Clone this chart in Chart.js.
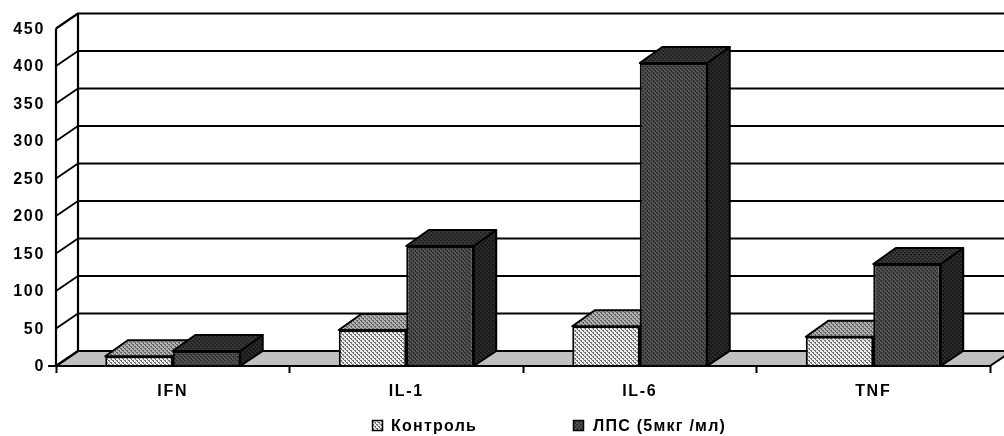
<!DOCTYPE html>
<html><head><meta charset="utf-8">
<style>html,body{margin:0;padding:0;background:#fff}#w{width:1004px;height:436px}canvas{display:block}</style>
<script src="https://cdn.jsdelivr.net/npm/chart.js@4"></script></head>
<body><div id="w"><canvas id="c" width="1004" height="436"></canvas></div>
<script>
const categories = ['IFN', 'IL-1', 'IL-6', 'TNF'];
const controlLabel = 'Контроль';
const lpsLabel = 'ЛПС (5мкг /мл)';
const controlValues = [13, 48, 53, 39];
const lpsValues = [20, 160, 404, 136];
const yTicks = [0,50,100,150,200,250,300,350,400,450];
const FONT = '"Liberation Sans", Arial, sans-serif';
const DX = 22, DY = -15, BAR_DX = 22.5, BAR_DY = -16;

function pattern(bg, fg){
  const p = document.createElement('canvas'); p.width = p.height = 4;
  const g = p.getContext('2d');
  g.fillStyle = bg; g.fillRect(0,0,4,4);
  g.fillStyle = fg;
  g.fillRect(0,0,2,1); g.fillRect(2,2,2,1); g.fillRect(1,1,1,1); g.fillRect(3,3,1,1);
  return document.getElementById('c').getContext('2d').createPattern(p,'repeat');
}
const skins = [
  {front: pattern('#ececec','#6e6e6e'), top: pattern('#b0b0b0','#646464'), side: pattern('#787878','#303030')},
  {front: pattern('#505050','#2e2e2e'), top: pattern('#383838','#1e1e1e'), side: pattern('#2a2a2a','#141414')}
];

function poly(ctx, pts, fill, lw){
  ctx.beginPath();
  pts.forEach((p,i)=> i?ctx.lineTo(p[0],p[1]):ctx.moveTo(p[0],p[1]));
  ctx.closePath();
  if(fill){ctx.fillStyle = fill; ctx.fill();}
  ctx.lineJoin='round';
  ctx.lineWidth = lw; ctx.strokeStyle = '#000'; ctx.stroke();
}

const scene = {
  id:'scene',
  beforeDraw(chart){ chart.ctx.letterSpacing = '1.7px'; },
  beforeDatasetsDraw(chart){
    const ctx = chart.ctx, a = chart.chartArea, y = chart.scales.y;
    ctx.save();
    poly(ctx, [[a.left,a.bottom],[a.left+DX,a.bottom+DY],[a.right+DX,a.bottom+DY],[a.right,a.bottom]], '#c0c0c0', 2);
    ctx.strokeStyle='#000';
    yTicks.forEach(t=>{
      const py = y.getPixelForValue(t);
      ctx.lineWidth = (t===0||t===450)?2.2:1.9;
      ctx.beginPath(); ctx.moveTo(a.left,py); ctx.lineTo(a.left+DX,py+DY); ctx.lineTo(chart.width+2,py+DY); ctx.stroke();
    });
    ctx.lineWidth=2.2;
    ctx.beginPath(); ctx.moveTo(a.left+DX,a.top+DY); ctx.lineTo(a.left+DX,a.bottom+DY); ctx.stroke();
    ctx.beginPath(); ctx.moveTo(a.left,a.top); ctx.lineTo(a.left,a.bottom); ctx.stroke();
    categories.forEach((_,i)=>{
      [0,1].forEach(d=>{
        const b = chart.getDatasetMeta(d).data[i];
        const l=b.x-b.width/2, r=b.x+b.width/2, t=b.y, bs=b.base;
        poly(ctx,[[r,bs],[r+BAR_DX,bs+DY],[r+BAR_DX,t+BAR_DY],[r,t]],skins[d].side,2);
        poly(ctx,[[l,t],[l+BAR_DX,t+BAR_DY],[r+BAR_DX,t+BAR_DY],[r,t]],skins[d].top,2);
      });
    });
    ctx.restore();
  },
  afterDraw(chart){
    const ctx = chart.ctx, a = chart.chartArea;
    ctx.save();
    ctx.strokeStyle='#000'; ctx.lineWidth=2.2;
    ctx.beginPath(); ctx.moveTo(a.left-8,a.bottom); ctx.lineTo(a.right,a.bottom); ctx.stroke();
    ctx.letterSpacing='1.25px';
    ctx.font='bold 16px '+FONT; ctx.textBaseline='middle'; ctx.textAlign='left';
    [[372,391,controlLabel,0],[573,593,lpsLabel,1]].forEach(([mx,tx,txt,d])=>{
      ctx.fillStyle=skins[d].front; ctx.fillRect(mx,420,11,11);
      ctx.lineWidth=1.5; ctx.strokeStyle='#000'; ctx.strokeRect(mx+.5,420.5,10,10);
      ctx.fillStyle='#000'; ctx.fillText(txt,tx,427);
    });
    ctx.restore();
  }
};

new Chart(document.getElementById('c'),{
  type:'bar',
  data:{labels:categories,datasets:[
    {label:controlLabel,data:controlValues,backgroundColor:skins[0].front,borderColor:'#000',borderWidth:2,categoryPercentage:0.578,barPercentage:1},
    {label:lpsLabel,data:lpsValues,backgroundColor:skins[1].front,borderColor:'#000',borderWidth:2,categoryPercentage:0.578,barPercentage:1}
  ]},
  options:{
    responsive:false,animation:false,
    layout:{padding:{top:28.5,right:14,left:0,bottom:0}},
    plugins:{legend:{display:false},tooltip:{enabled:false}},
    scales:{
      x:{grid:{display:true,drawOnChartArea:false,drawTicks:true,tickLength:7,tickColor:'#000',tickWidth:2},border:{display:false},
         afterFit(s){s.height=70;},
         ticks:{color:'#000',padding:9,font:{family:FONT,weight:'bold',size:16},maxRotation:0}},
      y:{min:0,max:450,
         afterFit(s){s.width=56;},
         afterBuildTicks(s){s.ticks=yTicks.map(v=>({value:v}));},
         grid:{display:false,drawTicks:true,tickLength:8,tickColor:'#000',tickWidth:2,drawOnChartArea:false},border:{display:false},
         ticks:{color:'#000',padding:3,labelOffset:1,font:{family:FONT,weight:'bold',size:16}}}
    }
  },
  plugins:[scene]
});
</script></body></html>
